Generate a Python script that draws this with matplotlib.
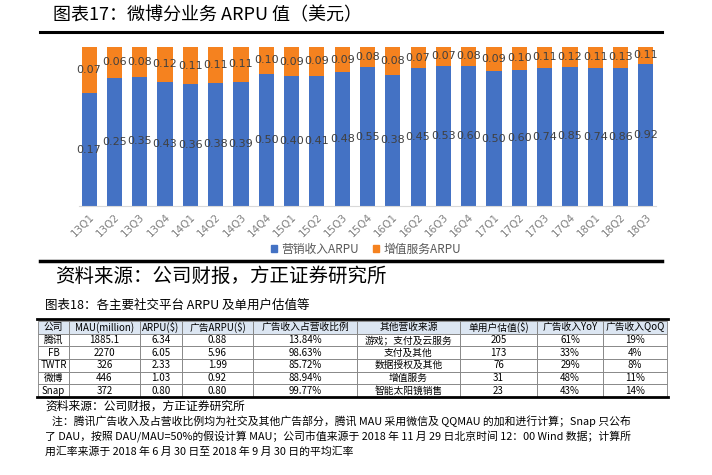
import matplotlib
matplotlib.use('Agg')
import matplotlib.pyplot as plt
import numpy as np
from matplotlib.patches import Patch

plt.rcParams['font.family'] = ['Noto Sans CJK SC', 'DejaVu Sans']

# chart 17 data
quarters = ['13Q1', '13Q2', '13Q3', '13Q4', '14Q1', '14Q2', '14Q3', '14Q4',
            '15Q1', '15Q2', '15Q3', '15Q4', '16Q1', '16Q2', '16Q3', '16Q4',
            '17Q1', '17Q2', '17Q3', '17Q4', '18Q1', '18Q2', '18Q3']
ad_arpu = [0.17, 0.25, 0.35, 0.43, 0.36, 0.38, 0.39, 0.50, 0.40, 0.41, 0.48, 0.55,
           0.38, 0.45, 0.53, 0.60, 0.50, 0.60, 0.74, 0.85, 0.74, 0.86, 0.92]
vas_arpu = [0.07, 0.06, 0.08, 0.12, 0.11, 0.11, 0.11, 0.10, 0.09, 0.09, 0.09, 0.08,
            0.08, 0.07, 0.07, 0.08, 0.09, 0.10, 0.11, 0.12, 0.11, 0.13, 0.11]
series_names = ['营销收入ARPU', '增值服务ARPU']

# chart 18 table
table_header = ['公司', 'MAU(million)', 'ARPU($)', '广告ARPU($)', '广告收入占营收比例',
                '其他营收来源', '单用户估值($)', '广告收入YoY', '广告收入QoQ']
companies = ['腾讯', 'FB', 'TWTR', '微博', 'Snap']
mau = ['1885.1', '2270', '326', '446', '372']
arpu = ['6.34', '6.05', '2.33', '1.03', '0.80']
ad_arpu_tbl = ['0.88', '5.96', '1.99', '0.92', '0.80']
ad_share = ['13.84%', '98.63%', '85.72%', '88.94%', '99.77%']
other_rev = ['游戏；支付及云服务', '支付及其他', '数据授权及其他', '增值服务', '智能太阳镜销售']
value_per_user = ['205', '173', '76', '31', '23']
ad_yoy = ['61%', '33%', '29%', '48%', '43%']
ad_qoq = ['19%', '4%', '8%', '11%', '14%']

W, H = 712, 475
BLUE = '#4472C4'
ORANGE = '#F5821F'


def fx(px):
    return px / W


def fy(py):
    return 1 - py / H


fig = plt.figure(figsize=(W / 100, H / 100), dpi=100)
fig.patch.set_facecolor('white')


def hline(y, x0, x1, lw):
    fig.add_artist(plt.Line2D([fx(x0), fx(x1)], [fy(y), fy(y)], color='black', lw=lw))


# title + rule
fig.text(fx(53), fy(15), '图表17：微博分业务 ARPU 值（美元）', fontsize=13, va='center', ha='left')
hline(32, 40, 662, 2.2)

# stacked 100% bars
ax = fig.add_axes([fx(79), fy(206), fx(656) - fx(79), (206 - 47) / H])
x = np.arange(len(quarters))
ad = np.array(ad_arpu)
vas = np.array(vas_arpu)
tot = ad + vas
ax.bar(x, ad / tot, width=0.6, color=BLUE)
ax.bar(x, vas / tot, width=0.6, bottom=ad / tot, color=ORANGE)
for i in range(len(x)):
    ax.text(x[i], ad[i] / tot[i] / 2, f'{ad[i]:.2f}', ha='center', va='center',
            fontsize=8, color='#404040', family='DejaVu Sans')
    ax.text(x[i], ad[i] / tot[i] + vas[i] / tot[i] / 2, f'{vas[i]:.2f}', ha='center',
            va='center', fontsize=8, color='#404040', family='DejaVu Sans')
ax.set_xlim(-0.4, len(x) - 0.6)
ax.set_ylim(0, 1)
ax.set_yticks([])
ax.set_xticks(x)
ax.set_xticklabels(quarters, rotation=45, ha='right', rotation_mode='anchor',
                   fontsize=7.5, color='#808080', family='DejaVu Sans')
ax.tick_params(axis='x', length=0, pad=4)
for s in ['top', 'left', 'right']:
    ax.spines[s].set_visible(False)
ax.spines['bottom'].set_color('#D9D9D9')

handles = [Patch(color=BLUE), Patch(color=ORANGE)]
fig.legend(handles, series_names, loc='center', bbox_to_anchor=(fx(366), fy(249)),
           ncol=2, frameon=False, fontsize=8.5, handlelength=0.5, handleheight=0.5,
           handletextpad=0.4, columnspacing=1.2, labelcolor='#595959')

hline(261, 40, 662, 2.5)
fig.text(fx(55), fy(276), '资料来源：公司财报，方正证券研究所', fontsize=14, va='center', ha='left')

# chart 18
fig.text(fx(45), fy(305), '图表18：各主要社交平台 ARPU 及单用户估值等', fontsize=9, va='center', ha='left')
hline(319, 37, 668, 2.0)

col_edges = [38, 69, 140, 182, 253, 357, 460, 537, 603, 667]
widths = np.diff(col_edges)
tax = fig.add_axes([fx(38), fy(397), fx(667) - fx(38), (397 - 321) / H])
tax.axis('off')
rows = list(zip(companies, mau, arpu, ad_arpu_tbl, ad_share, other_rev,
                value_per_user, ad_yoy, ad_qoq))
tbl = tax.table(cellText=[list(r) for r in rows], colLabels=table_header,
                colWidths=list(widths / widths.sum()), cellLoc='center', bbox=[0, 0, 1, 1])
tbl.auto_set_font_size(False)
for (r, c), cell in tbl.get_celld().items():
    cell.set_fontsize(7)
    cell.set_edgecolor('#7F7F7F')
    cell.set_linewidth(0.6)
    if r == 0:
        cell.set_facecolor('#DCE6F2')
hline(397, 37, 668, 2.0)

fig.text(fx(45), fy(406), '资料来源：公司财报，方正证券研究所', fontsize=8.5, va='center', ha='left')
notes = ['注：腾讯广告收入及占营收比例均为社交及其他广告部分，腾讯 MAU 采用微信及 QQMAU 的加和进行计算；Snap 只公布',
         '了 DAU，按照 DAU/MAU=50%的假设计算 MAU；公司市值来源于 2018 年 11 月 29 日北京时间 12：00 Wind 数据；计算所',
         '用汇率来源于 2018 年 6 月 30 日至 2018 年 9 月 30 日的平均汇率']
note_x = [52, 45, 45]
note_y = [421, 437, 452]
for t, nx, ny in zip(notes, note_x, note_y):
    fig.text(fx(nx), fy(ny), t, fontsize=7.8, va='center', ha='left')

fig.savefig('out.png', dpi=100)
